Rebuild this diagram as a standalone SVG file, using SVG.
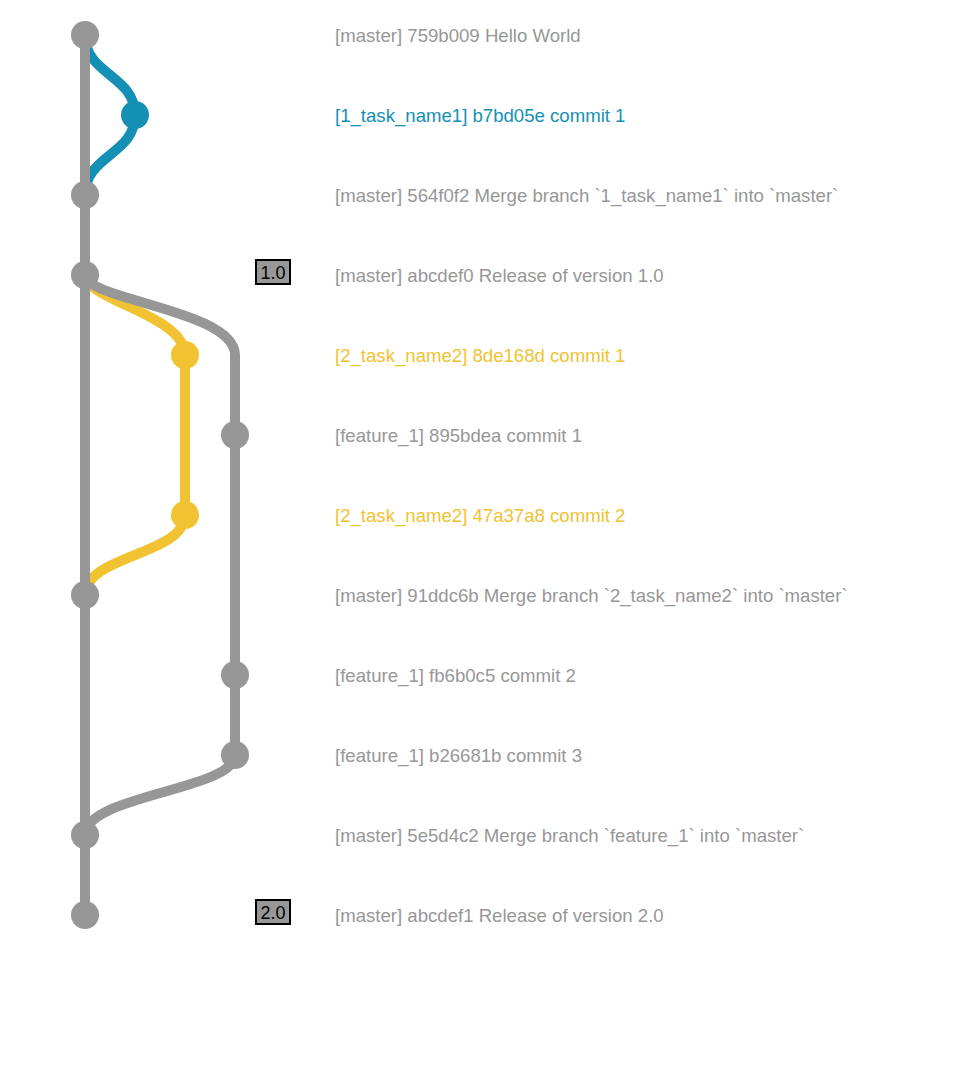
<svg xmlns="http://www.w3.org/2000/svg" width="962" height="1071" viewBox="0 0 962 1071">
<style>
.l{fill:none;stroke-width:10}
.m{stroke:#979797}
.b{stroke:#1490b4}
.y{stroke:#f1c232}
.t{font-family:"Liberation Sans",Arial,sans-serif;font-size:18.6px}
.tm{fill:#979797}
.tb{fill:#1490b4}
.ty{fill:#f1c232}
.tag{fill:#979797;stroke:#000;stroke-width:2}
.tagt{font-family:"Liberation Sans",Arial,sans-serif;font-size:18px;fill:#000;text-anchor:middle}
</style>
<rect width="962" height="1071" fill="#fff"/>
<g id="connectors">
<path class="l b" d="M85,35 C85,75 135,75 135,115 C135,155 85,155 85,195"/>
<path class="l y" d="M85,275 C85,300 185,315 185,355 L185,515 C185,555 85,555 85,595"/>
<path class="l m" d="M85,275 C85,300 235,310 235,355 L235,755 C235,790 85,795 85,835"/>
<path class="l m" d="M85,35 L85,915"/>
</g>
<g id="c1"><circle cx="85" cy="35" r="14" fill="#979797"/><text class="t tm" x="335" y="41.5">[master] 759b009 Hello World</text></g>
<g id="c2"><circle cx="135" cy="115" r="14" fill="#1490b4"/><text class="t tb" x="335" y="121.5">[1_task_name1] b7bd05e commit 1</text></g>
<g id="c3"><circle cx="85" cy="195" r="14" fill="#979797"/><text class="t tm" x="335" y="201.5">[master] 564f0f2 Merge branch `1_task_name1` into `master`</text></g>
<g id="c4"><circle cx="85" cy="275" r="14" fill="#979797"/><rect class="tag" x="256" y="260" width="34" height="24"/><text class="tagt" x="273" y="279">1.0</text><text class="t tm" x="335" y="281.5">[master] abcdef0 Release of version 1.0</text></g>
<g id="c5"><circle cx="185" cy="355" r="14" fill="#f1c232"/><text class="t ty" x="335" y="361.5">[2_task_name2] 8de168d commit 1</text></g>
<g id="c6"><circle cx="235" cy="435" r="14" fill="#979797"/><text class="t tm" x="335" y="441.5">[feature_1] 895bdea commit 1</text></g>
<g id="c7"><circle cx="185" cy="515" r="14" fill="#f1c232"/><text class="t ty" x="335" y="521.5">[2_task_name2] 47a37a8 commit 2</text></g>
<g id="c8"><circle cx="85" cy="595" r="14" fill="#979797"/><text class="t tm" x="335" y="601.5">[master] 91ddc6b Merge branch `2_task_name2` into `master`</text></g>
<g id="c9"><circle cx="235" cy="675" r="14" fill="#979797"/><text class="t tm" x="335" y="681.5">[feature_1] fb6b0c5 commit 2</text></g>
<g id="c10"><circle cx="235" cy="755" r="14" fill="#979797"/><text class="t tm" x="335" y="761.5">[feature_1] b26681b commit 3</text></g>
<g id="c11"><circle cx="85" cy="835" r="14" fill="#979797"/><text class="t tm" x="335" y="841.5">[master] 5e5d4c2 Merge branch `feature_1` into `master`</text></g>
<g id="c12"><circle cx="85" cy="915" r="14" fill="#979797"/><rect class="tag" x="256" y="900" width="34" height="24"/><text class="tagt" x="273" y="919">2.0</text><text class="t tm" x="335" y="921.5">[master] abcdef1 Release of version 2.0</text></g>
</svg>
